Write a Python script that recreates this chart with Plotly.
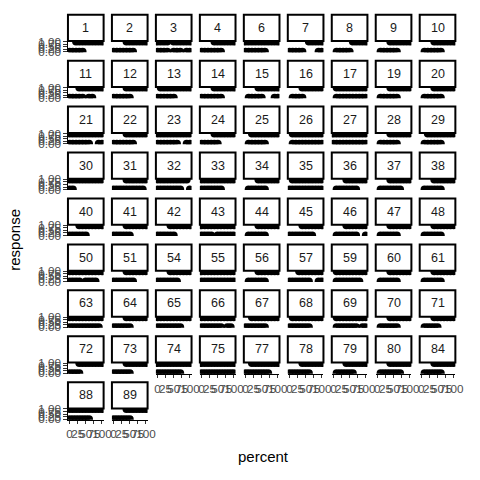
import plotly.graph_objects as go

# ---- data ----
percent_grid = [0, 10, 20, 30, 40, 50, 60, 70, 80, 90, 100]
x_tick_vals = [0, 25, 50, 75, 100]
x_tick_text = ["0", "25", "50", "75", "100"]
y_tick_vals = [0, 0.25, 0.5, 0.75, 1]
y_tick_text = ["0.00", "0.25", "0.50", "0.75", "1.00"]

panel_ids = [1, 2, 3, 4, 6, 7, 8, 9, 10,
             11, 12, 13, 14, 15, 16, 17, 19, 20,
             21, 22, 23, 24, 25, 26, 27, 28, 29,
             30, 31, 32, 33, 34, 35, 36, 37, 38,
             40, 41, 42, 43, 44, 45, 46, 47, 48,
             50, 51, 54, 55, 56, 57, 59, 60, 61,
             63, 64, 65, 66, 67, 68, 69, 70, 71,
             72, 73, 74, 75, 77, 78, 79, 80, 84,
             88, 89]

# response at each percent: '1' -> response 1, '0' -> response 0, 'b' -> both, '.' -> none
panel_codes = ["00bbb111111", "0000bbb1111", "bbbb.bbb1bb", "0000bbb1111", "bbbbbbb1111",
               "00000.111bb", ".0000011111", ".000bbb1111", ".000bbb1111",
               "000bb1bb111", "0000bb11111", "0bbbbb11111", "0000bbb1111", ".000bb111bb",
               ".000b111111", ".bbbbbbbbbb", ".000bbb1111", ".000bbb1111",
               "bbbbbbb11bb", "0000bbb1111", "bbbbbbb11bb", "0000bb11111", ".0bbbbb1111",
               ".bbbbbbbbbb", "bbbbbbbbbbb", ".000bbb1111", ".0bbbbb1111",
               "bb111111111", "0000bbbbbb1", "bbbbbbbb110", "bbbbbbb1111", ".000bbb1111",
               "0bbbbbbbbbb", ".000bbbb111", ".000bbbb111", ".000bbb1111",
               "000bbb11111", "0000bb11111", "0000bb11111", "bbbb1bbbbbb", ".000bbb1111",
               "0000bbbb111", ".000bbbb11b", ".000bbb1111", ".000bbb1111",
               "bbbb1bbbb11", "0000bbb1111", "0000bbb1111", "bbbbbbbbbbb", ".000bbb1111",
               "000bbbb11bb", ".bbbbbbbb11", ".000bbb1111", ".000bbb1111",
               "bbbbbbbbbb1", "0000bb11111", "bbbbbbbb111", "bbbbbbb1bb1", "00bbbbb1111",
               "0bbbbbb1111", ".bbbbbbb1bb", ".000bbb1111", ".000bb11111",
               "000b1111111", "0000bb11111", "bbbbbbbb111", "bbbbbbbbbbb", "00bbbbbb111",
               "0000bbb1111", ".000bbb1111", ".000bbbb111", ".000bbb1111",
               "bbbbbbb1111", "0000bb11111"]

# ---- layout geometry (pixels in a 480x480 canvas) ----
W = H = 480
NCOL = 9
COL0, COL_PITCH, PANEL_W = 67.5, 45.0, 36.5
ROW0, ROW_PITCH = 9.0, 47.1
STRIP_H, PANEL_H = 27.0, 11.5

FONT = "Liberation Sans, Arial, sans-serif"
TICK_FONT = dict(family=FONT, size=11.7, color="#4D4D4D")

fig = go.Figure()
layout = dict(width=W, height=H, margin=dict(l=0, r=0, t=0, b=0),
              paper_bgcolor="white", plot_bgcolor="white", showlegend=False)
shapes, annotations = [], []
n = len(panel_ids)

for k, (pid, code) in enumerate(zip(panel_ids, panel_codes)):
    r, c = divmod(k, NCOL)
    left = COL0 + COL_PITCH * c
    right = left + PANEL_W
    s_top = ROW0 + ROW_PITCH * r
    s_bot = s_top + STRIP_H
    p_bot = s_bot + PANEL_H

    xs, ys = [], []
    for p, ch in zip(percent_grid, code):
        if ch in "0b":
            xs.append(p); ys.append(0)
        if ch in "1b":
            xs.append(p); ys.append(1)

    suffix = "" if k == 0 else str(k + 1)
    fig.add_trace(go.Scatter(x=xs, y=ys, mode="markers",
                             marker=dict(color="black", size=8),
                             xaxis="x" + suffix, yaxis="y" + suffix,
                             cliponaxis=True, hoverinfo="skip"))

    is_bottom = k + NCOL >= n
    is_left = c == 0
    layout["xaxis" + suffix] = dict(
        domain=[left / W, right / W], anchor="y" + suffix,
        range=[-5, 105], showgrid=False, zeroline=False,
        tickmode="array", tickvals=x_tick_vals, ticktext=x_tick_text,
        showticklabels=is_bottom, ticks="outside" if is_bottom else "",
        ticklen=3.7, tickwidth=1, tickcolor="#333333", tickangle=0,
        showline=is_bottom, linecolor="black", linewidth=1,
        tickfont=TICK_FONT, fixedrange=True)
    layout["yaxis" + suffix] = dict(
        domain=[1 - p_bot / H, 1 - s_bot / H], anchor="x" + suffix,
        range=[-0.05, 1.05], showgrid=False, zeroline=False,
        tickmode="array", tickvals=y_tick_vals, ticktext=y_tick_text,
        showticklabels=is_left, ticks="outside" if is_left else "",
        ticklen=3.7, tickwidth=1, tickcolor="#333333",
        showline=is_left, linecolor="black", linewidth=1,
        tickfont=TICK_FONT, fixedrange=True)

    shapes.append(dict(type="rect", xref="paper", yref="paper",
                       x0=left / W, x1=right / W, y0=1 - s_bot / H, y1=1 - s_top / H,
                       line=dict(color="black", width=2), fillcolor="white",
                       layer="above"))
    annotations.append(dict(xref="paper", yref="paper",
                            x=(left + right) / 2 / W, y=1 - (s_top + s_bot) / 2 / H,
                            text=str(pid), showarrow=False,
                            xanchor="center", yanchor="middle",
                            font=dict(family=FONT, size=12.5, color="#1A1A1A")))

annotations.append(dict(xref="paper", yref="paper", x=268 / W, y=1 - 462 / H,
                        text="percent", showarrow=False, xanchor="center", yanchor="middle",
                        font=dict(family=FONT, size=15, color="black")))
annotations.append(dict(xref="paper", yref="paper", x=12 / W, y=1 - 240 / H,
                        text="response", showarrow=False, textangle=-90,
                        xanchor="center", yanchor="middle",
                        font=dict(family=FONT, size=15, color="black")))

layout["shapes"] = shapes
layout["annotations"] = annotations
fig.update_layout(**layout)
fig.write_html("out.html")
